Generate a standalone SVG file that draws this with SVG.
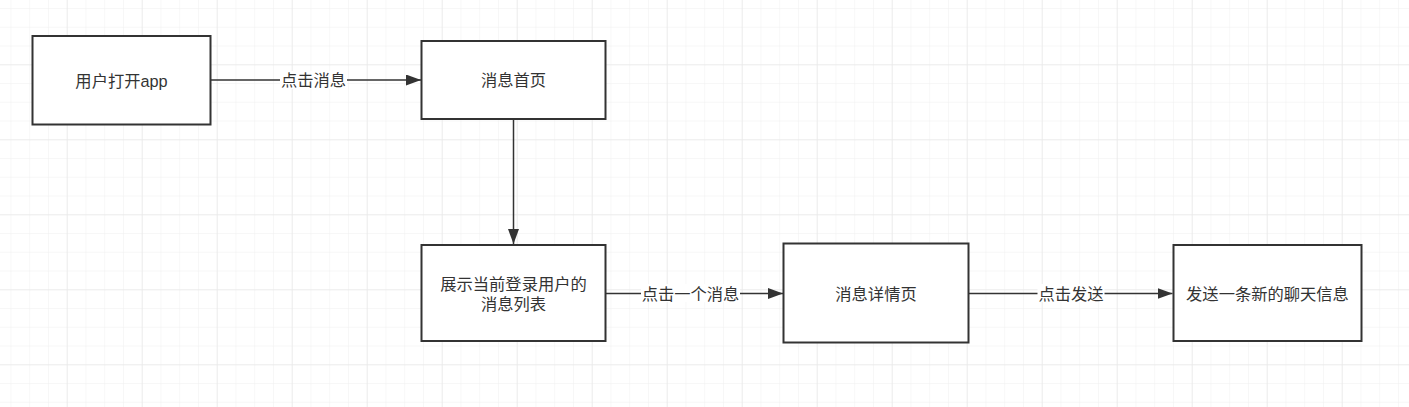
<svg xmlns="http://www.w3.org/2000/svg" width="1409" height="407" viewBox="0 0 1409 407">
<style>
.box{fill:#fff;stroke:#333;stroke-width:2}
.t{font-family:"Liberation Sans","Noto Sans CJK SC",sans-serif;font-size:16.3px;fill:#333;text-anchor:middle;dominant-baseline:central}
.edge{fill:none;stroke:#333;stroke-width:1.5}
.lbl{fill:#fff}
</style>
<defs>
<pattern id="minor" x="-8.3" y="-10.7" width="18.75" height="18.75" patternUnits="userSpaceOnUse">
<path d="M0 0H18.75M0 0V18.75" fill="none" stroke="#f0f0f0" stroke-width="1"/>
</pattern>
<pattern id="major" x="-8.3" y="-10.7" width="75" height="75" patternUnits="userSpaceOnUse">
<path d="M0 0H75M0 0V75" fill="none" stroke="#e3e3e3" stroke-width="1"/>
</pattern>
<marker id="arrow" viewBox="0 0 15 11" refX="15" refY="5.5" markerWidth="15" markerHeight="11" markerUnits="userSpaceOnUse" orient="auto">
<path d="M0 0L15 5.5L0 11z" fill="#333"/>
</marker>
</defs>
<rect width="1409" height="407" fill="#fff"/>
<rect width="1409" height="407" fill="url(#minor)"/>
<rect width="1409" height="407" fill="url(#major)"/>

<g id="connectors">
<path class="edge" d="M211 80H421" marker-end="url(#arrow)"/>
<rect class="lbl" x="280" y="71" width="67" height="18"/>
<text class="t" x="313.5" y="80">点击消息</text>
<path class="edge" d="M513.5 120V244" marker-end="url(#arrow)"/>
<path class="edge" d="M605.5 293.5H783" marker-end="url(#arrow)"/>
<rect class="lbl" x="641" y="284" width="99" height="18"/>
<text class="t" x="690.5" y="293.5">点击一个消息</text>
<path class="edge" d="M969 293.5H1172.5" marker-end="url(#arrow)"/>
<rect class="lbl" x="1037.5" y="284" width="67" height="18"/>
<text class="t" x="1071" y="293.5">点击发送</text>
</g>

<g id="n1">
<rect class="box" x="32.5" y="36" width="178" height="88.5"/>
<text class="t" x="121.5" y="81">用户打开app</text>
</g>
<g id="n2">
<rect class="box" x="421.5" y="41" width="184" height="78"/>
<text class="t" x="513.5" y="80">消息首页</text>
</g>
<g id="n3">
<rect class="box" x="421.5" y="245" width="184" height="96"/>
<text class="t" x="513.5" y="284">展示当前登录用户的</text>
<text class="t" x="513.5" y="304">消息列表</text>
</g>
<g id="n4">
<rect class="box" x="783.5" y="243.5" width="185" height="99"/>
<text class="t" x="876" y="294">消息详情页</text>
</g>
<g id="n5">
<rect class="box" x="1173.5" y="245" width="188" height="96"/>
<text class="t" x="1267.5" y="294">发送一条新的聊天信息</text>
</g>
</svg>
